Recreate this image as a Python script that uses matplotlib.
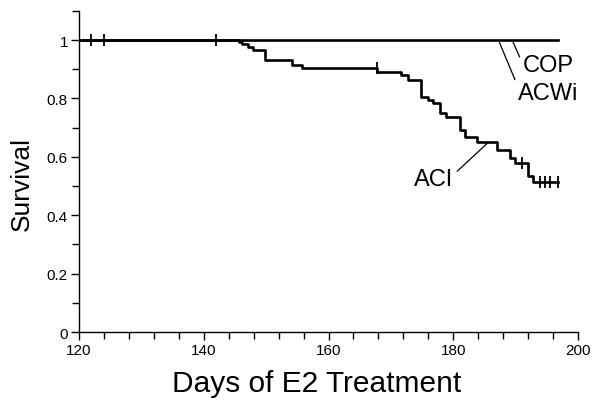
import matplotlib
matplotlib.use('Agg')
import matplotlib.pyplot as plt
from matplotlib.ticker import MultipleLocator

plt.rcParams['font.family'] = ['Liberation Sans', 'DejaVu Sans']

# ACI group: event times (days) and survival after each step
aci_days = [120, 145.7, 146.2, 147.1, 147.9, 149.8, 154.1, 155.7, 167.8, 171.7,
            172.8, 174.9, 176.0, 176.8, 177.9, 178.9, 181.1, 181.9, 183.8, 187.0,
            189.1, 189.9, 192.0, 192.8, 196.8]
aci_surv = [1.0, 0.994, 0.985, 0.976, 0.966, 0.932, 0.914, 0.903, 0.889, 0.880,
            0.863, 0.806, 0.795, 0.783, 0.749, 0.738, 0.692, 0.669, 0.652, 0.623,
            0.595, 0.580, 0.534, 0.515, 0.515]
aci_cens_days = [167.8, 191.0, 193.9, 194.7, 195.5, 196.8]
aci_cens_surv = [0.903, 0.580, 0.515, 0.515, 0.515, 0.515]

# COP and ACWi: no events, overlapping flat lines
flat_days = [120, 196.8]
flat_surv = [1.0, 1.0]
flat_cens_days = [122, 124, 142]
flat_cens_surv = [1.0, 1.0, 1.0]

fig = plt.figure(figsize=(6, 4.1), dpi=100)
ax = fig.add_axes([0.1317, 0.1878, 0.8316, 0.7834])

lw = 1.9
ax.plot(flat_days, flat_surv, color='black', lw=lw)
ax.plot(flat_cens_days, flat_cens_surv, ls='None', marker='|', color='black',
        markersize=8, mew=1.3)
ax.step(aci_days, aci_surv, where='post', color='black', lw=lw)
ax.plot(aci_cens_days, aci_cens_surv, ls='None', marker='|', color='black',
        markersize=8, mew=1.3)

# labels with leader lines
ax.annotate('COP', xy=(189.6, 0.992), xytext=(191.1, 0.913), fontsize=17,
            ha='left', va='center',
            arrowprops=dict(arrowstyle='-', color='black', lw=0.9,
                            shrinkA=0, shrinkB=0,
                            relpos=(0, 0.6)))
ax.annotate('ACWi', xy=(187.4, 0.992), xytext=(190.3, 0.817), fontsize=17,
            ha='left', va='center',
            arrowprops=dict(arrowstyle='-', color='black', lw=0.9,
                            shrinkA=0, shrinkB=0,
                            relpos=(0, 0.85)))
ax.annotate('ACI', xy=(185.6, 0.649), xytext=(180.0, 0.524), fontsize=17,
            ha='right', va='center',
            arrowprops=dict(arrowstyle='-', color='black', lw=0.9,
                            shrinkA=0, shrinkB=0,
                            relpos=(1.1, 0.85)))

ax.set_xlim(120, 200)
ax.set_ylim(0, 1.1)
ax.xaxis.set_major_locator(MultipleLocator(20))
ax.xaxis.set_minor_locator(MultipleLocator(4))
ax.set_yticks([0, 0.2, 0.4, 0.6, 0.8, 1.0])
ax.set_yticklabels(['0', '0.2', '0.4', '0.6', '0.8', '1'])
ax.yaxis.set_minor_locator(MultipleLocator(0.1))

for side in ['top', 'right']:
    ax.spines[side].set_visible(False)
for side in ['left', 'bottom']:
    ax.spines[side].set_linewidth(1.0)
ax.tick_params(which='major', direction='out', length=6, width=1.0,
               labelsize=11, pad=2)
ax.tick_params(which='minor', direction='out', length=5, width=1.0)

ax.set_xlabel('Days of E2 Treatment', fontsize=21.5)
ax.xaxis.set_label_coords(0.477, -0.115)
ax.xaxis.label.set_va('top')
ax.set_ylabel('Survival', fontsize=19)
ax.yaxis.set_label_coords(-0.09, 0.464)

fig.savefig('out.png', dpi=100)
plt.close()
